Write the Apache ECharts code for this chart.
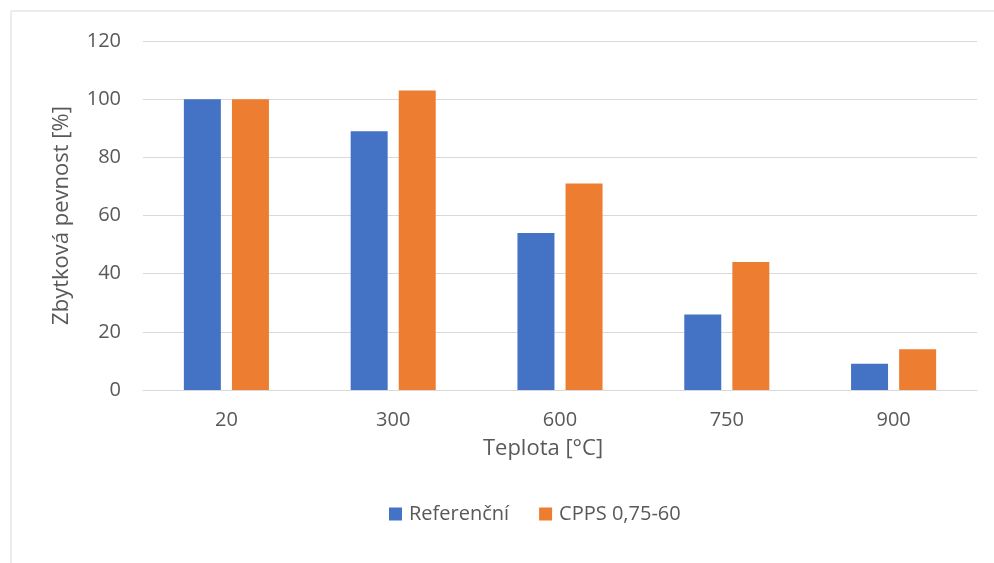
<!DOCTYPE html>
<html><head><meta charset="utf-8">
<script src="https://cdn.jsdelivr.net/npm/echarts@6/dist/echarts.min.js"></script>
<style>html,body{margin:0;padding:0;background:#fff}#c{width:994px;height:563px}</style>
</head><body><div id="c"></div>
<script>
const categories = ['20', '300', '600', '750', '900'];
const referencni = [100, 89, 54, 26, 9];
const cpps = [100, 103, 71, 44, 14];
const seriesNames = ['Referenční', 'CPPS 0,75-60'];
const yTicks = {min: 0, max: 120, interval: 20};

const font = 'Open Sans';
const chart = echarts.init(document.getElementById('c'), null, {renderer: 'canvas'});
chart.setOption({
  animation: false,
  backgroundColor: '#fff',
  textStyle: {fontFamily: font},
  graphic: [{type: 'rect', shape: {x: 11, y: 11, width: 1000, height: 600}, style: {fill: 'none', stroke: '#d9d9d9', lineWidth: 1}, silent: true}],
  grid: {left: 143, right: 17, top: 41, bottom: 173, containLabel: false},
  legend: {
    bottom: 34, left: 384, itemWidth: 13, itemHeight: 13, itemGap: 30,
    icon: 'rect',
    textStyle: {color: '#595959', fontSize: 20, fontFamily: font, padding: [0, 0, 0, 2]},
    data: seriesNames
  },
  xAxis: {
    type: 'category', data: categories,
    axisLine: {lineStyle: {color: '#d9d9d9', width: 1}},
    axisTick: {show: false},
    axisLabel: {color: '#595959', fontSize: 20, margin: 20, fontFamily: font},
    name: 'Teplota [°C]', nameLocation: 'middle', nameGap: 48,
    nameTextStyle: {color: '#595959', fontSize: 22, fontFamily: font, padding: [0, 34, 0, 0]}
  },
  yAxis: {
    type: 'value', min: yTicks.min, max: yTicks.max, interval: yTicks.interval,
    axisLine: {show: false}, axisTick: {show: false},
    splitLine: {lineStyle: {color: '#d9d9d9', width: 1}},
    axisLabel: {color: '#595959', fontSize: 20, margin: 22, fontFamily: font},
    name: 'Zbytková pevnost [%]', nameLocation: 'middle', nameGap: 70,
    nameTextStyle: {color: '#595959', fontSize: 22, fontFamily: font}
  },
  series: [
    {name: seriesNames[0], type: 'bar', data: referencni, itemStyle: {color: '#4472C4'}, barGap: '30%', barCategoryGap: '49%'},
    {name: seriesNames[1], type: 'bar', data: cpps, itemStyle: {color: '#ED7D31'}, barGap: '30%', barCategoryGap: '49%'}
  ]
});
</script></body></html>
